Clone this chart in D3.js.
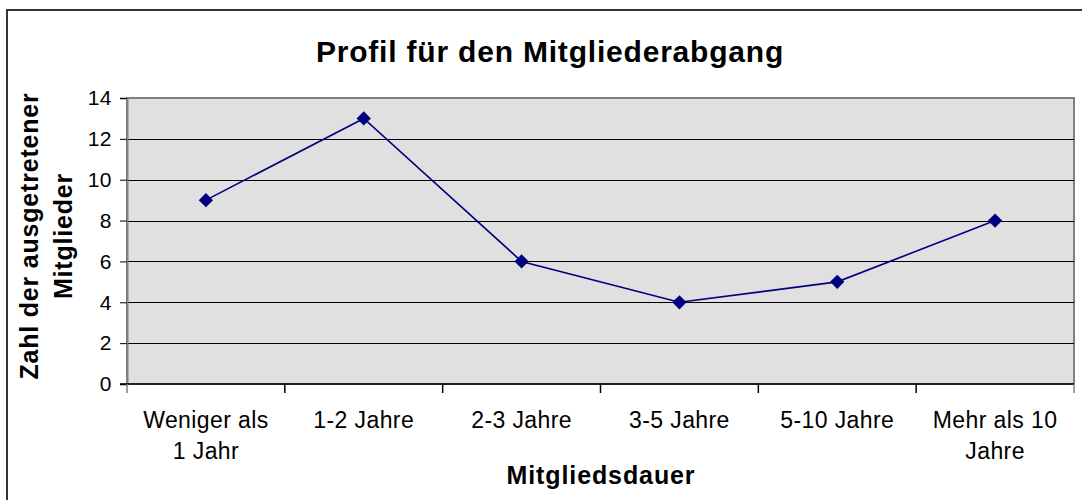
<!DOCTYPE html>
<html>
<head>
<meta charset="utf-8">
<script src="https://cdn.jsdelivr.net/npm/d3@7"></script>
<style>
  body { margin: 0; background: #fff; }
  text { font-family: Arial, "Liberation Sans", sans-serif; fill: #000; }
</style>
</head>
<body>
<script>
(function () {

  // data
  var categories = ["Weniger als|1 Jahr", "1-2 Jahre", "2-3 Jahre", "3-5 Jahre", "5-10 Jahre", "Mehr als 10|Jahre"],
    values = [9, 13, 6, 4, 5, 8],
    yTicks = [0, 2, 4, 6, 8, 10, 12, 14];

  var W = 1082, H = 500,
    margin = {top: 98, right: 8, bottom: 116, left: 127},
    width = 1074 - margin.left,
    height = 384 - margin.top;

  var svg = d3.select("body").append("svg")
    .attr("width", W)
    .attr("height", H);

  // outer chart frame
  svg.append("rect")
    .attr("x", 7).attr("y", 10)
    .attr("width", 1200).attr("height", 700)
    .attr("fill", "none")
    .attr("stroke", "#333")
    .attr("stroke-width", 2);

  var g = svg.append("g")
    .attr("transform", "translate(" + margin.left + "," + margin.top + ")");

  var x = d3.scaleBand().domain(d3.range(categories.length)).range([0, width]),
    y = d3.scaleLinear().domain([0, 14]).range([height, 0]);

  g.append("rect")
    .attr("width", width)
    .attr("height", height)
    .attr("fill", "#e0e0e0")
    .attr("stroke", "#808080")
    .attr("stroke-width", 2);

  // grid
  g.selectAll(".grid")
    .data(yTicks.filter(function (d) { return d > 0 && d < 14; }))
    .enter().append("line")
    .attr("x1", 0).attr("x2", width)
    .attr("y1", function (d) { return Math.round(y(d)) + 0.5; })
    .attr("y2", function (d) { return Math.round(y(d)) + 0.5; })
    .attr("stroke", "#000")
    .attr("stroke-width", 1);

  // y axis
  var yAxis = g.append("g")
    .call(d3.axisLeft(y).tickValues(yTicks).tickSize(7).tickPadding(8));
  yAxis.select(".domain").attr("stroke", "#808080").attr("stroke-width", 2);
  yAxis.selectAll(".tick line").attr("stroke", "#000");
  yAxis.selectAll(".tick text")
    .style("font-size", "21px")
    .style("letter-spacing", "0.5px")
    .style("font-family", "Arial, 'Liberation Sans', sans-serif");

  // x axis, ticks on category boundaries
  var bounds = d3.range(categories.length + 1);
  var xAxis = g.append("g").attr("transform", "translate(0," + height + ")");
  xAxis.append("line")
    .attr("x1", -7).attr("x2", width)
    .attr("stroke", "#000").attr("stroke-width", 1.5);
  xAxis.selectAll(".xt")
    .data(bounds)
    .enter().append("line")
    .attr("x1", function (d) { return d * x.step(); })
    .attr("x2", function (d) { return d * x.step(); })
    .attr("y1", 0).attr("y2", 9)
    .attr("stroke", function (d) { return d === 0 || d === categories.length ? "#808080" : "#000"; })
    .attr("stroke-width", 1.5);

  var lab = xAxis.selectAll(".xl")
    .data(categories)
    .enter().append("text")
    .attr("text-anchor", "middle")
    .attr("transform", function (d, i) { return "translate(" + (x(i) + x.bandwidth() / 2) + ",44)"; })
    .style("font-size", "23px")
    .style("letter-spacing", "0.4px");
  lab.selectAll("tspan")
    .data(function (d) { return d.split("|"); })
    .enter().append("tspan")
    .attr("x", 0)
    .attr("dy", function (d, i) { return i ? 31 : 0; })
    .text(function (d) { return d; });

  // line
  var line = d3.line()
    .x(function (d, i) { return x(i) + x.bandwidth() / 2; })
    .y(function (d) { return y(d); });

  g.append("path")
    .datum(values)
    .attr("d", line)
    .attr("fill", "none")
    .attr("stroke", "#000080")
    .attr("stroke-width", 1.6);

  g.selectAll(".pt")
    .data(values)
    .enter().append("path")
    .attr("d", d3.symbol().type(d3.symbolDiamond2).size(130))
    .attr("transform", function (d, i) { return "translate(" + (x(i) + x.bandwidth() / 2) + "," + y(d) + ")"; })
    .attr("fill", "#000080");

  // titles
  svg.append("text")
    .attr("x", 550).attr("y", 62)
    .attr("text-anchor", "middle")
    .style("font-size", "30px")
    .style("letter-spacing", "0.8px")
    .style("font-weight", "bold")
    .text("Profil für den Mitgliederabgang");

  svg.append("text")
    .attr("x", 601).attr("y", 484)
    .attr("text-anchor", "middle")
    .style("font-size", "25px")
    .style("letter-spacing", "0.9px")
    .style("font-weight", "bold")
    .text("Mitgliedsdauer");

  var yt = svg.append("text")
    .attr("transform", "translate(0,236) rotate(-90)")
    .attr("text-anchor", "middle")
    .style("font-size", "25px")
    .style("letter-spacing", "0.8px")
    .style("font-weight", "bold");
  yt.append("tspan").attr("x", 0).attr("y", 38).text("Zahl der ausgetretener");
  yt.append("tspan").attr("x", 0).attr("y", 72).text("Mitglieder");

}());
</script>
</body>
</html>
